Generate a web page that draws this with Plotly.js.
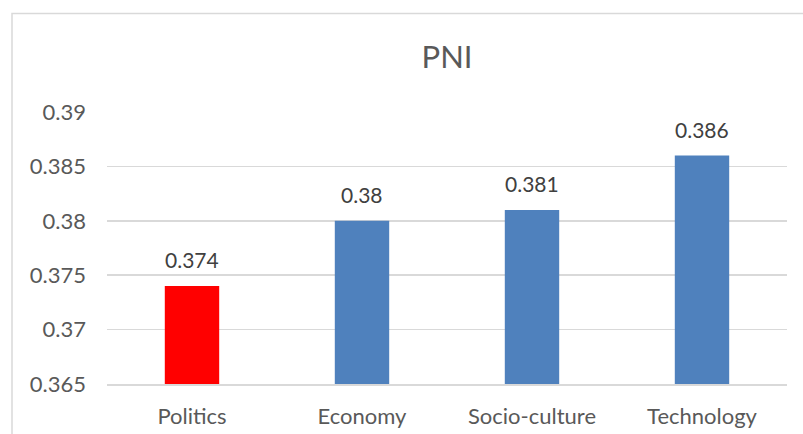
<!DOCTYPE html>
<html>
<head>
<meta charset="utf-8">
<script src="https://cdn.plot.ly/plotly-3.0.1.min.js"></script>
<style>html,body{margin:0;padding:0;background:#fff;}#chart{width:803px;height:434px;}</style>
</head>
<body>
<div id="chart"></div>
<script>
const categories = ["Politics", "Economy", "Socio-culture", "Technology"];
const pniValues = [0.374, 0.380, 0.381, 0.386];
const valueLabels = ["0.374", "0.38", "0.381", "0.386"];
const barColors = ["#FF0000", "#4F81BD", "#4F81BD", "#4F81BD"];
const yTickVals = [0.365, 0.37, 0.375, 0.38, 0.385, 0.39];
const yTickText = ["0.365", "0.37", "0.375", "0.38", "0.385", "0.39"];

const font = "Lato, 'Open Sans', sans-serif";
const textColor = "#595959";

const trace = {
  type: "bar",
  x: categories,
  y: pniValues,
  base: 0,
  marker: {color: barColors, line: {width: 0}},
  hoverinfo: "none"
};

const labelAnnotations = categories.map((c, i) => ({
  x: c, y: pniValues[i], xref: "x", yref: "y",
  text: valueLabels[i],
  showarrow: false,
  yanchor: "bottom",
  yshift: 12,
  font: {family: font, size: 21, color: "#404040"}
}));

const layout = {
  width: 803,
  height: 434,
  margin: {l: 107, r: 16, t: 112, b: 50},
  paper_bgcolor: "#ffffff",
  plot_bgcolor: "#ffffff",
  bargap: 0.68,
  showlegend: false,
  title: {
    text: "PNI",
    font: {family: font, size: 31, color: textColor},
    x: 0.5, xref: "paper", xanchor: "center",
    y: 0.8687, yref: "container", yanchor: "middle"
  },
  xaxis: {
    type: "category",
    tickfont: {family: font, size: 22, color: textColor},
    showgrid: false,
    showline: true,
    linecolor: "#D9D9D9",
    linewidth: 1.5,
    ticks: "",
    ticklabelstandoff: 12
  },
  yaxis: {
    range: [0.365, 0.39],
    tickvals: yTickVals,
    ticktext: yTickText,
    tickfont: {family: font, size: 22, color: textColor},
    showgrid: true,
    gridcolor: "#D9D9D9",
    gridwidth: 1.5,
    zeroline: false,
    showline: false,
    ticks: "",
    ticklabelstandoff: 20
  },
  annotations: labelAnnotations,
  shapes: [{
    type: "rect", xref: "paper", yref: "paper",
    x0: -0.1397, x1: 1.2, y0: -0.5, y1: 1.362,
    line: {color: "#D9D9D9", width: 1.5},
    fillcolor: "rgba(0,0,0,0)",
    layer: "below"
  }]
};

Plotly.newPlot("chart", [trace], layout, {displayModeBar: false, staticPlot: true});
</script>
</body>
</html>
